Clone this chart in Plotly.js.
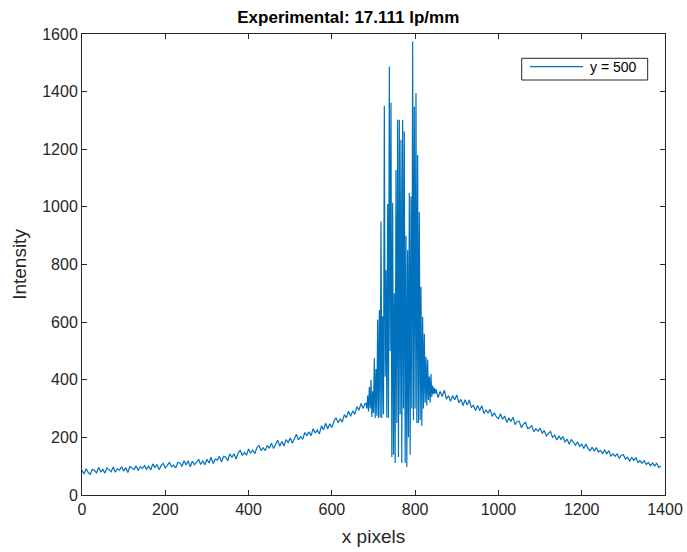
<!DOCTYPE html>
<html>
<head>
<meta charset="utf-8">
<script src="https://cdn.plot.ly/plotly-3.0.1.min.js"></script>
<style>html,body{margin:0;padding:0;background:#fff;}#chart{width:687px;height:552px;}</style>
</head>
<body>
<div id="chart"></div>
<script>
// Left background: x = 0..680 step 5
const leftStart = 0, leftStep = 5;
const leftY = [
  86,73,91,78,72,89,85,77,96,80,
  89,76,94,86,81,97,79,91,86,98,
  83,95,78,99,93,88,101,85,98,92,
  102,89,100,87,108,95,106,88,102,110,
  93,105,113,98,104,94,113,111,99,119,
  104,119,98,117,105,114,124,106,118,105,
  124,111,131,109,125,121,134,114,134,131,
  119,143,131,143,125,146,156,137,148,138,
  160,145,156,143,165,172,154,164,154,172,
  162,180,161,176,190,169,186,170,192,182,
  198,180,199,211,191,203,193,217,206,219,
  206,230,215,226,212,240,226,249,230,247,
  234,257,268,251,264,253,279,268,291,273,
  292,280,307,294,318,300,318
];
// Central fringe region: x = 682..848 step 2
const midStart = 682, midStep = 2;
const midY = [
  318,300,345,290,375,300,399,271,360,285,
  475,267,437,275,608,267,642,270,949,267,
  620,280,1351,410,780,268,1010,268,1487,500,
  1361,132,1014,140,700,111,1128,250,1302,132,
  1302,280,1233,111,1302,300,1262,111,900,97,
  850,200,1048,140,1036,300,1574,260,1348,300,
  1395,250,1180,250,983,260,723,240,619,300,
  560,320,480,310,470,330,411,320,420,340,
  380,350,372,352
];
// Right background: x = 850..1390 step 5
const rightStart = 850, rightStep = 5;
const rightY = [
  367,338,359,342,364,333,345,325,345,331,
  347,320,332,310,331,312,330,303,311,293,
  311,293,310,283,295,285,297,273,285,271,
  265,282,263,274,252,267,255,270,244,256,
  256,234,246,252,231,233,241,220,230,221,
  232,214,224,205,214,221,200,208,191,205,
  193,203,183,194,176,192,183,173,185,169,
  177,161,177,162,154,166,152,165,149,155,
  144,156,143,154,135,143,134,143,127,138,
  140,125,131,118,130,120,130,113,119,110,
  119,106,113,102,111,101,110,96,101
];
const seriesName = "y = 500";
const titleText = "Experimental: 17.111 lp/mm";
const xTitle = "x pixels";
const yTitle = "Intensity";

const xs = [], ys = [];
leftY.forEach((v,i)=>{xs.push(leftStart+i*leftStep); ys.push(v);});
midY.forEach((v,i)=>{xs.push(midStart+i*midStep); ys.push(v);});
rightY.forEach((v,i)=>{xs.push(rightStart+i*rightStep); ys.push(v);});

const axCol = "#262626";
const lineCol = "#0072BD";
const fontFam = "Liberation Sans, Arial, Helvetica, sans-serif";

const trace = {
  x: xs, y: ys, type: "scatter", mode: "lines", name: seriesName,
  line: {color: lineCol, width: 1.2}, showlegend: false
};
const axisCommon = {
  showline: true, linecolor: axCol, linewidth: 1, mirror: "ticks",
  ticks: "inside", ticklen: 5, tickcolor: axCol, tickwidth: 1,
  showgrid: false, zeroline: false,
  tickfont: {family: fontFam, size: 16, color: axCol}
};
// manual MATLAB-style legend box (paper coordinates)
const shapes = [
  {type: "rect", xref: "paper", yref: "paper", x0: 0.7542, x1: 0.9703, y0: 0.9002, y1: 0.9473,
   line: {color: axCol, width: 1}, fillcolor: "#fff"},
  {type: "line", xref: "paper", yref: "paper", x0: 0.7684, x1: 0.8593, y0: 0.9291, y1: 0.9291,
   line: {color: lineCol, width: 1.2}}
];
const annotations = [
  {xref: "paper", yref: "paper", x: 0.8680, y: 0.9291, xanchor: "left", yanchor: "middle",
   text: seriesName, showarrow: false, font: {family: fontFam, size: 14, color: "#000"}}
];
const layout = {
  width: 687, height: 552,
  margin: {l: 82, r: 22, t: 34, b: 57},
  paper_bgcolor: "#fff", plot_bgcolor: "#fff",
  title: {text: "<b>" + titleText + "</b>", font: {family: fontFam, size: 17, color: "#000"},
          x: 0.507, xanchor: "center", y: 0.969, yanchor: "middle", yref: "container"},
  xaxis: Object.assign({}, axisCommon, {range: [0, 1400], dtick: 200, tick0: 0,
    title: {text: xTitle, font: {family: fontFam, size: 19, color: axCol}, standoff: 12}}),
  yaxis: Object.assign({}, axisCommon, {range: [0, 1600], dtick: 200, tick0: 0,
    title: {text: yTitle, font: {family: fontFam, size: 19, color: axCol}, standoff: 10}}),
  showlegend: false,
  shapes: shapes,
  annotations: annotations
};
Plotly.newPlot("chart", [trace], layout, {displayModeBar: false, staticPlot: true});
</script>
</body>
</html>
